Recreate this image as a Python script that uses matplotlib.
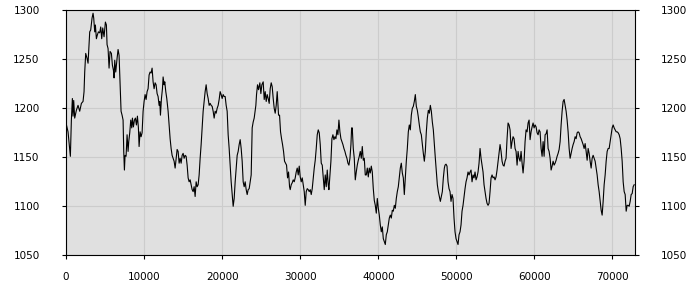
import matplotlib
matplotlib.use("Agg")
import matplotlib.pyplot as plt

x_vals = [0, 260, 474, 560, 688, 816, 902, 987, 1115, 1329, 1542, 1756, 1970, 2183, 2311, 2397, 2525, 2696, 2824, 2952,
          3038, 3166, 3337, 3465, 3551, 3679, 3764, 3892, 4021, 4149, 4320, 4448, 4576, 4704, 4875, 5046, 5174, 5260, 5388, 5516,
          5644, 5815, 5943, 6072, 6157, 6243, 6371, 6542, 6670, 6798, 6926, 7054, 7183, 7311, 7396, 7482, 7567, 7695, 7824, 7952,
          8037, 8166, 8294, 8422, 8508, 8636, 8764, 8892, 9020, 9148, 9276, 9362, 9490, 9618, 9747, 9875, 10003, 10131, 10259, 10387,
          10515, 10644, 10772, 10900, 11028, 11156, 11285, 11413, 11541, 11669, 11797, 11925,
          12012, 12097, 12226, 12354, 12439, 12567, 12653, 12781, 12909, 13080, 13208, 13337, 13465, 13593, 13721, 13849, 13978, 14106,
          14234, 14362, 14490, 14618, 14747, 14875, 15003, 15131, 15259, 15388, 15516, 15644, 15772, 15900, 16029, 16157, 16285, 16413,
          16541, 16670, 16798, 16926, 17054, 17182, 17310, 17439, 17567, 17695, 17823, 17951, 18080, 18208, 18336, 18464, 18592, 18720,
          18849, 18977, 19105, 19233, 19361, 19490, 19618, 19746, 19874, 20002, 20131, 20259, 20387, 20515, 20643, 20771, 20900, 21028,
          21156, 21284, 21413, 21541, 21669, 21797, 21925, 22053, 22182, 22310, 22438, 22566, 22694, 22823, 22951, 23079, 23207, 23335,
          23464, 23592, 23720, 23848, 23976, 24105,
          24319, 24405, 24533, 24661, 24832, 24960, 25088, 25259, 25387, 25516, 25644, 25772, 25900, 26028, 26157, 26285, 26413, 26541,
          26669, 26797, 26926, 27054, 27225, 27353, 27481, 27609, 27738, 27866, 27994, 28122, 28250, 28378, 28507, 28635, 28720, 28849,
          28977, 29105, 29233, 29361, 29489, 29618, 29746, 29874, 30002, 30130, 30259, 30387, 30515, 30643, 30771, 30900, 31028, 31156,
          31284, 31412, 31540, 31669, 31797, 31925, 32053, 32181, 32310, 32438, 32566, 32694, 32822, 32951, 33079, 33207, 33335, 33463,
          33592, 33677, 33805, 33933, 34062, 34190, 34318, 34446, 34574, 34703, 34831, 34959, 35087, 35215, 35343, 35472, 35600, 35728,
          35856, 35984, 36113, 36241,
          36370, 36498, 36584, 36669, 36797, 36925, 37054, 37182, 37310, 37438, 37566, 37695, 37823, 37951, 38079, 38207, 38335, 38464,
          38592, 38720, 38848, 38976, 39105, 39233, 39361, 39489, 39617, 39746, 39874, 40002, 40130, 40258, 40387, 40515, 40643, 40771,
          40899, 41028, 41156, 41284, 41412, 41540, 41668, 41797, 41925, 42053, 42181, 42309, 42438, 42566, 42694, 42822, 42950, 43079,
          43207, 43335, 43463, 43591, 43720, 43848, 43976, 44104, 44232, 44360, 44489, 44617, 44745, 44873, 45001, 45130, 45258, 45386,
          45514, 45642, 45771, 45899, 46027, 46155, 46283, 46412, 46540, 46668, 46796, 46924, 47052, 47181, 47309, 47437, 47565, 47693,
          47822, 47950, 48078, 48206, 48334, 48463,
          48549, 48677, 48805, 48934, 49062, 49190, 49318, 49446, 49574, 49703, 49831, 49959, 50087, 50215, 50344, 50472, 50600, 50728,
          50856, 50985, 51113, 51241, 51369, 51497, 51626, 51754, 51882, 52010, 52138, 52266, 52395, 52523, 52651, 52779, 52907, 53036,
          53164, 53292, 53420, 53548, 53677, 53805, 53933, 54061, 54189, 54318, 54446, 54574, 54702, 54830, 54958, 55087, 55215, 55343,
          55471, 55599, 55728, 55856, 55984, 56112, 56240, 56369, 56497, 56625, 56753, 56881, 57010, 57138, 57266, 57394, 57522, 57650,
          57779, 57907, 58035, 58163, 58291, 58420, 58548, 58676, 58804, 58932, 59061, 59189, 59317, 59445, 59573, 59701, 59830, 59958,
          60086, 60214, 60343, 60471, 60599, 60727,
          60856, 60984, 61113, 61241, 61369, 61497, 61625, 61753, 61882, 62010, 62138, 62266, 62394, 62523, 62651, 62779, 62907, 63035,
          63164, 63292, 63420, 63548, 63676, 63805, 63933, 64061, 64189, 64317, 64446, 64574, 64702, 64830, 64958, 65087, 65215, 65343,
          65471, 65599, 65727, 65856, 65984, 66112, 66240, 66368, 66497, 66625, 66753, 66881, 67009, 67138, 67266, 67394, 67522, 67650,
          67778, 67907, 68035, 68163, 68291, 68419, 68548, 68676, 68804, 68932, 69060, 69189, 69317, 69445, 69573, 69701, 69830, 69958,
          70086, 70214, 70342, 70471, 70599, 70727, 70855, 70983, 71112, 71240, 71368, 71496, 71624, 71753, 71881, 72009, 72137, 72265,
          72394, 72521, 72650, 72778]

y_vals = [1185, 1176, 1158, 1151, 1188, 1210, 1192, 1208, 1190, 1198, 1203, 1197, 1205, 1207, 1217, 1237, 1256, 1251, 1246, 1265,
          1278, 1280, 1292, 1297, 1292, 1278, 1285, 1271, 1275, 1278, 1277, 1283, 1271, 1282, 1273, 1288, 1285, 1265, 1261, 1241,
          1258, 1256, 1244, 1239, 1231, 1249, 1237, 1251, 1260, 1254, 1227, 1197, 1193, 1188, 1156, 1137, 1152, 1151, 1173, 1156,
          1166, 1175, 1188, 1180, 1190, 1181, 1188, 1190, 1183, 1192, 1180, 1161, 1176, 1171, 1175, 1197, 1207, 1214, 1209, 1217,
          1220, 1234, 1237, 1236, 1241, 1227, 1220, 1226, 1224, 1215, 1212, 1203,
          1207, 1193, 1210, 1220, 1232, 1224, 1227, 1217, 1210, 1197, 1183, 1169, 1159, 1152, 1149, 1146, 1139, 1149,
          1158, 1156, 1144, 1149, 1144, 1152, 1154, 1149, 1152, 1151, 1142, 1129, 1125, 1127, 1122, 1117, 1115, 1120,
          1110, 1125, 1120, 1122, 1132, 1149, 1163, 1180, 1197, 1207, 1217, 1224, 1215, 1210, 1203, 1205, 1203, 1202,
          1197, 1190, 1197, 1195, 1200, 1203, 1209, 1217, 1214, 1210, 1214, 1212, 1212, 1203, 1197, 1173, 1159, 1142,
          1125, 1113, 1100, 1108, 1125, 1139, 1152, 1156, 1163, 1168, 1159, 1146, 1125, 1120, 1125, 1117, 1112, 1117,
          1118, 1125, 1132, 1180, 1186, 1190,
          1203, 1214, 1224, 1219, 1226, 1215, 1224, 1227, 1209, 1217, 1207, 1214, 1210, 1205, 1220, 1226, 1222, 1210,
          1200, 1195, 1203, 1217, 1193, 1193, 1176, 1169, 1163, 1156, 1146, 1144, 1142, 1129, 1135, 1120, 1117, 1122,
          1124, 1127, 1125, 1129, 1135, 1139, 1132, 1141, 1130, 1125, 1129, 1122, 1115, 1101, 1115, 1118, 1117, 1115,
          1117, 1112, 1118, 1129, 1139, 1147, 1159, 1173, 1178, 1175, 1163, 1144, 1142, 1129, 1117, 1132, 1120, 1137,
          1122, 1117, 1132, 1146, 1169, 1173, 1168, 1171, 1169, 1178, 1173, 1188, 1176, 1169, 1166, 1163, 1159, 1156,
          1152, 1149, 1144, 1142,
          1149, 1163, 1180, 1180, 1159, 1149, 1127, 1135, 1142, 1147, 1151, 1156, 1149, 1161, 1147, 1149, 1132, 1132,
          1139, 1130, 1139, 1134, 1141, 1135, 1118, 1106, 1101, 1093, 1108, 1098, 1091, 1081, 1074, 1079, 1067, 1064,
          1061, 1071, 1074, 1081, 1088, 1091, 1088, 1096, 1095, 1101, 1098, 1108, 1115, 1120, 1129, 1139, 1144, 1134,
          1129, 1112, 1129, 1146, 1159, 1176, 1183, 1178, 1193, 1200, 1202, 1207, 1214, 1202, 1198, 1191, 1183, 1176,
          1173, 1163, 1154, 1146, 1156, 1176, 1190, 1198, 1195, 1203, 1197, 1186, 1178, 1163, 1149, 1135, 1122, 1115,
          1110, 1105, 1110, 1115, 1129, 1139,
          1142, 1143, 1141, 1125, 1118, 1115, 1105, 1112, 1108, 1088, 1074, 1067, 1064, 1061, 1071, 1074, 1081, 1095,
          1101, 1110, 1118, 1125, 1129, 1135, 1132, 1135, 1137, 1125, 1132, 1129, 1135, 1127, 1130, 1135, 1144, 1159,
          1149, 1142, 1135, 1122, 1115, 1108, 1103, 1101, 1103, 1115, 1129, 1132, 1129, 1130, 1127, 1130, 1137, 1146,
          1156, 1163, 1156, 1146, 1142, 1141, 1146, 1149, 1169, 1185, 1183, 1178, 1159, 1166, 1171, 1169, 1159, 1156,
          1142, 1156, 1149, 1146, 1156, 1144, 1134, 1146, 1166, 1178, 1176, 1185, 1188, 1168, 1176, 1181, 1185, 1180,
          1183, 1181, 1175, 1173, 1178, 1176,
          1159, 1151, 1166, 1151, 1173, 1174, 1178, 1159, 1156, 1149, 1137, 1141, 1146, 1142, 1144, 1147, 1151, 1154,
          1158, 1166, 1183, 1197, 1207, 1209, 1203, 1197, 1188, 1176, 1159, 1149, 1154, 1159, 1163, 1166, 1171, 1169,
          1175, 1176, 1175, 1171, 1169, 1166, 1163, 1159, 1164, 1156, 1147, 1159, 1154, 1146, 1139, 1149, 1152, 1149,
          1146, 1139, 1132, 1122, 1115, 1105, 1096, 1091, 1105, 1122, 1132, 1146, 1156, 1159, 1159, 1166, 1173, 1180,
          1183, 1180, 1178, 1176, 1176, 1175, 1173, 1169, 1159, 1146, 1125, 1115, 1112, 1095, 1101, 1101, 1100, 1105,
          1112, 1113, 1120, 1122]

y_ticks = [1050, 1100, 1150, 1200, 1250, 1300]
x_ticks = [0, 10000, 20000, 30000, 40000, 50000, 60000, 70000]

fig = plt.figure(figsize=(7, 3), dpi=100)
ax = fig.add_axes([66 / 700, 1 - 255.3 / 300, (634.5 - 66) / 700, (255.3 - 10.3) / 300])
ax.set_facecolor("#e0e0e0")
ax.plot(x_vals, y_vals, color="black", linewidth=0.8)
ax.set_xlim(0, 72820)
ax.set_ylim(1050, 1300)
ax.set_xticks(x_ticks)
ax.set_xticklabels([str(t) for t in x_ticks])
ax.set_yticks(y_ticks)
ax.set_yticklabels([str(t) for t in y_ticks])
ax.grid(True, color="#cccccc", linewidth=0.8)
ax.set_axisbelow(True)
ax.tick_params(axis="y", which="both", left=True, right=True, labelleft=True, labelright=True,
               direction="out", length=3, width=0.8, pad=16, labelsize=7.5)
ax.tick_params(axis="x", direction="out", length=3, width=0.8, pad=9, labelsize=7.5)
for s in ax.spines.values():
    s.set_color("black")
    s.set_linewidth(0.8)
fig.savefig("out.png", dpi=100)
